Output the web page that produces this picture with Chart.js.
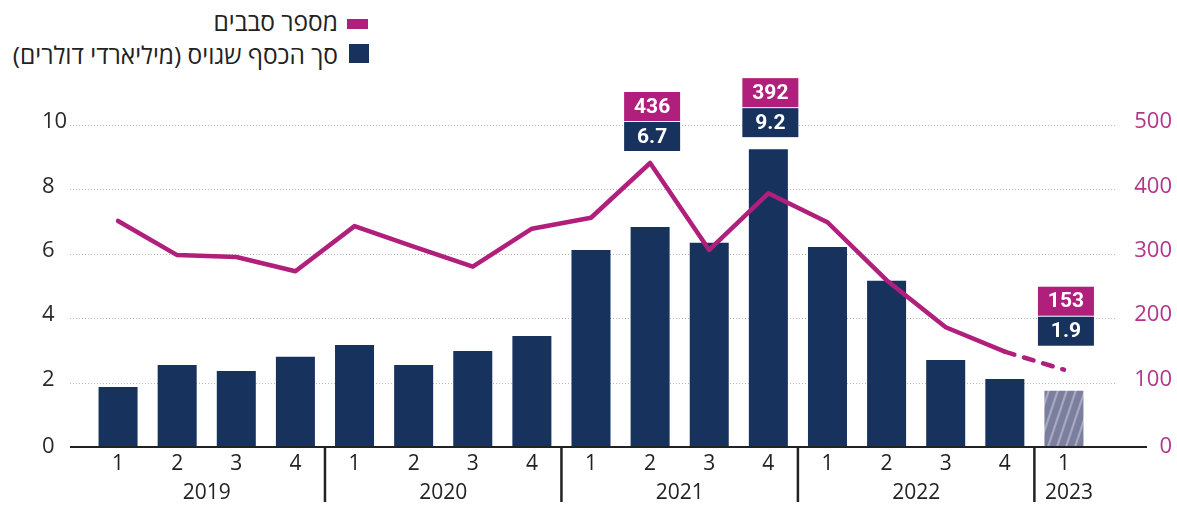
<!DOCTYPE html>
<html lang="he">
<head>
<meta charset="utf-8">
<script src="https://cdn.jsdelivr.net/npm/chart.js@4/dist/chart.umd.min.js"></script>
<style>
  html, body { margin: 0; padding: 0; background: #fff; }
  #wrap { position: relative; width: 1177px; height: 505px; }
  canvas { position: absolute; left: 0; top: 0; }
  .legend { position: absolute; left: 0; width: 338px; text-align: right; direction: rtl; line-height: 30px;
            font-family: "Open Sans", "DejaVu Sans", sans-serif; font-size: 24.5px; color: #222; white-space: nowrap; }
  .sw { position: absolute; }
</style>
</head>
<body>
<div id="wrap">
  <div class="legend" style="top:7px">מספר סבבים</div>
  <div class="sw" style="left:347px; top:19px; width:21px; height:10px; background:#b01f7b"></div>
  <div class="legend" style="top:40px">סך הכסף שגויס (מיליארדי דולרים)</div>
  <div class="sw" style="left:349px; top:44px; width:20px; height:19px; background:#17325c"></div>
  <canvas id="chart" width="1177" height="505"></canvas>
</div>
<script>
// quarters 2019 Q1 .. 2023 Q1
const quarters = ["1", "2", "3", "4", "1", "2", "3", "4", "1", "2", "3", "4", "1", "2", "3", "4", "1"];
const years = ["2019", "2020", "2021", "2022", "2023"];
const yearOf = [0, 0, 0, 0, 1, 1, 1, 1, 2, 2, 2, 2, 3, 3, 3, 3, 4];

// money raised, billions of dollars (left axis)
const money = [1.86, 2.55, 2.36, 2.8, 3.17, 2.55, 2.98, 3.45, 6.12, 6.83, 6.34, 9.25, 6.21, 5.16, 2.7, 2.11, 1.75];
// number of rounds (right axis)
const rounds = [351, 298, 295, 273, 343, 311, 280, 339, 356, 441, 306, 394, 349, 259, 186, 148, 120];

// boxed callouts: bar index, rounds text, money text
const calloutIdx = [9, 11, 16];
const calloutRounds = ["436", "392", "153"];
const calloutMoney = ["6.7", "9.2", "1.9"];

const leftTicks = [0, 2, 4, 6, 8, 10];
const rightTicks = [0, 100, 200, 300, 400, 500];

const NAVY = "#17325c";
const MAGENTA = "#b01f7b";
const FONT = '"Open Sans", "DejaVu Sans", sans-serif';

// hatched fill for the partial quarter
function hatch() {
  const c = document.createElement("canvas");
  c.width = 9; c.height = 27;
  const g = c.getContext("2d");
  g.fillStyle = "#7b7e9d";
  g.fillRect(0, 0, 9, 27);
  g.strokeStyle = "#a7a9c1";
  g.lineWidth = 2.2;
  for (const dx of [-9, 0, 9]) {
    g.beginPath();
    g.moveTo(dx, 27);
    g.lineTo(dx + 9, 0);
    g.stroke();
  }
  return g.createPattern(c, "repeat");
}

const barColors = money.map((v, i) => i === money.length - 1 ? hatch() : NAVY);

const axesPlugin = {
  id: "axesPlugin",
  beforeDatasetsDraw(chart) {
    const { ctx, scales: { y } } = chart;
    ctx.save();
    ctx.strokeStyle = "#b8b8b8";
    ctx.lineWidth = 1;
    ctx.setLineDash([1, 2]);
    leftTicks.forEach(t => {
      if (t === 0) return;
      const py = Math.round(y.getPixelForValue(t)) + 0.5;
      ctx.beginPath();
      ctx.moveTo(70, py);
      ctx.lineTo(1117, py);
      ctx.stroke();
    });
    ctx.restore();
  },
  afterDatasetsDraw(chart) {
    const { ctx, scales: { x, y, y2 } } = chart;
    const y0 = y.getPixelForValue(0);
    ctx.save();

    // baseline
    ctx.strokeStyle = "#222";
    ctx.lineWidth = 2;
    ctx.beginPath();
    ctx.moveTo(70, y0);
    ctx.lineTo(1147, y0);
    ctx.stroke();

    // tick labels
    ctx.font = "22px " + FONT;
    ctx.textBaseline = "middle";
    ctx.fillStyle = "#2a2a2a";
    ctx.textAlign = "left";
    leftTicks.forEach(t => ctx.fillText(String(t), 42, y.getPixelForValue(t) - (t === 0 ? 0 : 3)));
    ctx.fillStyle = "#b5338a";
    ctx.textAlign = "right";
    rightTicks.forEach(t => ctx.fillText(String(t), 1172, y2.getPixelForValue(t) - (t === 0 ? 0 : 3)));

    // quarter labels
    ctx.fillStyle = "#222";
    ctx.textAlign = "center";
    ctx.font = "21px " + FONT;
    quarters.forEach((q, i) => ctx.fillText(q, x.getPixelForValue(i), y0 + 17));

    // year labels and separators
    years.forEach((yr, k) => {
      const idx = yearOf.map((v, i) => v === k ? i : -1).filter(i => i >= 0);
      const a = x.getPixelForValue(idx[0]);
      const b = x.getPixelForValue(idx[idx.length - 1]);
      ctx.fillText(yr, (a + b) / 2 + (idx.length === 1 ? 5 : 0), y0 + 46);
    });
    ctx.lineWidth = 2.5;
    for (let i = 1; i < yearOf.length; i++) {
      if (yearOf[i] !== yearOf[i - 1]) {
        const sx = (x.getPixelForValue(i) + x.getPixelForValue(i - 1)) / 2;
        ctx.beginPath();
        ctx.moveTo(sx, y0);
        ctx.lineTo(sx, y0 + 55);
        ctx.stroke();
      }
    }

    // callout boxes
    const bw = 56, bh = 29;
    ctx.font = "bold 21px Roboto, " + FONT;
    calloutIdx.forEach((i, k) => {
      const cx = x.getPixelForValue(i) + 2;
      const top = Math.min(y.getPixelForValue(money[i]), y2.getPixelForValue(rounds[i]));
      const bottom = top - (i === money.length - 1 ? 24 : 12);
      ctx.fillStyle = NAVY;
      ctx.fillRect(cx - bw / 2, bottom - bh, bw, bh);
      ctx.fillStyle = MAGENTA;
      ctx.fillRect(cx - bw / 2, bottom - 2 * bh - 1, bw, bh);
      ctx.fillStyle = "#fff";
      ctx.fillText(calloutMoney[k], cx, bottom - bh / 2 + 1);
      ctx.fillText(calloutRounds[k], cx, bottom - bh - 1 - bh / 2 + 1);
    });
    ctx.restore();
  }
};

new Chart(document.getElementById("chart"), {
  type: "bar",
  data: {
    labels: quarters,
    datasets: [
      {
        type: "line",
        label: "מספר סבבים",
        data: rounds,
        yAxisID: "y2",
        borderColor: MAGENTA,
        borderWidth: 4.5,
        pointRadius: 0,
        borderCapStyle: "round",
        borderJoinStyle: "round",
        tension: 0,
        order: 0,
        segment: {
          borderDash: ctx => ctx.p1DataIndex === rounds.length - 1 ? [10, 10] : undefined
        }
      },
      {
        label: "סך הכסף שגויס (מיליארדי דולרים)",
        data: money,
        yAxisID: "y",
        backgroundColor: barColors,
        barPercentage: 0.66,
        categoryPercentage: 1,
        order: 1
      }
    ]
  },
  options: {
    responsive: false,
    animation: false,
    layout: { padding: { left: 88.5, right: 83.5, top: 125, bottom: 58 } },
    plugins: { legend: { display: false }, tooltip: { enabled: false } },
    scales: {
      x: { display: false, offset: true },
      y: { display: false, min: 0, max: 10 },
      y2: { display: false, min: 0, max: 500, position: "right" }
    }
  },
  plugins: [axesPlugin]
});
</script>
</body>
</html>
